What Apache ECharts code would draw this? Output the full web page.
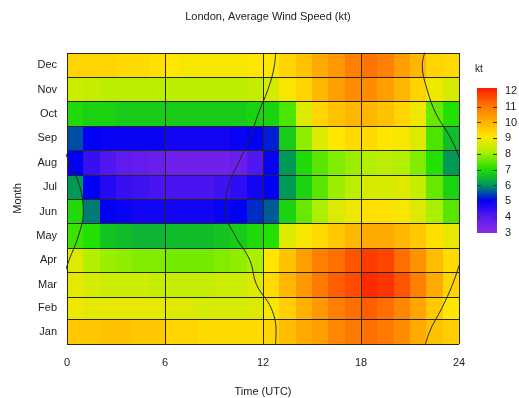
<!DOCTYPE html>
<html>
<head>
<meta charset="utf-8">
<script src="https://cdn.jsdelivr.net/npm/echarts@6/dist/echarts.min.js"></script>
<style>
  html, body { margin: 0; padding: 0; background: #fff; }
  #chart { width: 519px; height: 398px; }
</style>
</head>
<body>
<div id="chart"></div>
<script>
const months = ['Jan', 'Feb', 'Mar', 'Apr', 'May', 'Jun', 'Jul', 'Aug', 'Sep', 'Oct', 'Nov', 'Dec'];
const monthDays = [31, 28, 31, 30, 31, 30, 31, 31, 30, 31, 30, 31];
const hourTicks = [0, 6, 12, 18, 24];
const speedTicks = [3, 4, 5, 6, 7, 8, 9, 10, 11, 12];
// colour at each speed tick (3 .. 12 kt)
const palette = ['#8a2be2', '#5a1af0', '#0000f5', '#009a55', '#22e000', '#aaf000', '#ffe600', '#ffaa00', '#ff6e00', '#ff1a00'];

// average wind speed (kt), one row per month, hours 0..23 UTC
const speed = [
  [9.5, 9.5, 9.6, 9.6, 9.5, 9.5, 9.3, 9.3, 9.2, 9.2, 9.2, 9.2, 9.3, 9.7, 10.0, 10.2, 10.6, 10.8, 11.0, 10.8, 10.5, 10.0, 9.6, 9.4], // Jan
  [8.8, 8.7, 8.7, 8.7, 8.7, 8.7, 8.6, 8.6, 8.5, 8.5, 8.5, 8.6, 8.9, 9.4, 9.9, 10.3, 10.7, 11.0, 11.2, 11.0, 10.6, 10.1, 9.5, 9.0], // Feb
  [8.7, 8.5, 8.4, 8.4, 8.4, 8.3, 8.3, 8.3, 8.3, 8.4, 8.4, 8.6, 9.2, 9.8, 10.3, 10.8, 11.2, 11.4, 11.8, 11.7, 11.3, 10.7, 10.0, 9.3], // Mar
  [8.6, 8.1, 7.9, 7.8, 7.7, 7.7, 7.6, 7.6, 7.6, 7.7, 7.8, 8.0, 9.0, 9.6, 10.2, 10.7, 11.0, 11.3, 11.6, 11.5, 11.0, 10.4, 9.7, 9.2], // Apr
  [7.2, 7.0, 6.6, 6.5, 6.4, 6.4, 6.5, 6.5, 6.5, 6.6, 6.7, 6.9, 7.0, 8.6, 8.9, 9.2, 9.5, 9.8, 10.0, 10.0, 9.8, 9.5, 9.1, 8.7], // May
  [6.9, 5.8, 5.0, 4.9, 4.8, 4.8, 4.8, 4.8, 4.8, 4.9, 5.0, 5.3, 5.6, 6.8, 7.5, 8.0, 8.6, 8.8, 9.1, 9.1, 8.9, 8.6, 8.0, 7.4], // Jun
  [6.0, 5.0, 4.6, 4.4, 4.3, 4.2, 4.2, 4.2, 4.2, 4.3, 4.5, 4.8, 5.0, 6.0, 6.8, 7.4, 7.9, 8.2, 8.5, 8.5, 8.6, 8.3, 7.5, 6.8], // Jul
  [5.0, 4.4, 4.1, 3.9, 3.8, 3.7, 3.6, 3.6, 3.6, 3.6, 3.7, 4.1, 4.9, 6.0, 6.9, 7.4, 7.7, 7.9, 8.1, 8.2, 8.1, 7.7, 7.0, 6.0], // Aug
  [5.5, 5.0, 4.9, 4.9, 4.9, 4.9, 4.8, 4.8, 4.8, 4.8, 4.9, 5.0, 5.2, 6.7, 7.8, 8.6, 9.0, 9.2, 9.2, 9.0, 8.9, 8.6, 7.3, 6.5], // Sep
  [6.9, 6.8, 6.8, 6.7, 6.7, 6.7, 6.7, 6.7, 6.7, 6.7, 6.7, 6.8, 6.8, 7.3, 8.6, 9.3, 9.6, 9.8, 9.8, 9.6, 9.3, 8.8, 7.5, 7.0], // Oct
  [8.4, 8.3, 8.2, 8.2, 8.2, 8.2, 8.2, 8.2, 8.2, 8.2, 8.2, 8.3, 8.5, 8.9, 9.3, 9.8, 10.2, 10.5, 10.5, 10.2, 9.8, 9.3, 8.8, 8.5], // Nov
  [9.3, 9.3, 9.3, 9.2, 9.2, 9.1, 9.0, 8.9, 8.9, 8.9, 8.9, 9.0, 9.0, 9.3, 9.6, 10.0, 10.3, 10.7, 10.9, 10.7, 10.2, 9.8, 9.3, 9.2]  // Dec
];

// the two day/night curves, hour (UTC) at mid-month; sunset runs past 24 in summer
const sunrise = [12.8, 12.5, 11.6, 11.2, 10.3, 9.7, 9.85, 10.5, 11.2, 11.7, 12.3, 12.7];
const sunset = [22.2, 22.95, 23.6, 24.12, 24.7, 25.0, 24.8, 24.15, 23.5, 22.6, 22.05, 21.75];

const monthStart = [];
let total = 0;
monthDays.forEach(d => { monthStart.push(total); total += d; });
const monthEdges = monthStart.concat([total]);
const monthMid = monthStart.map((s, i) => s + monthDays[i] / 2);

const cells = [];
speed.forEach((row, m) => {
  row.forEach((v, h) => {
    cells.push([h, h + 1, monthStart[m], monthStart[m] + monthDays[m], v]);
  });
});

// wrap Dec/Jan around the year ends so the curve runs off the frame
function curve(vals, shift) {
  const pts = vals.map((v, i) => [v + shift, monthMid[i]]);
  pts.unshift([vals[11] + shift, monthMid[11] - total]);
  pts.push([vals[0] + shift, monthMid[0] + total]);
  return pts;
}

const textColor = '#222';
const lineColor = '#262626';
const font = 'Liberation Sans, Arial, sans-serif';
const vMin = speedTicks[0];
const vMax = speedTicks[speedTicks.length - 1];

const chart = echarts.init(document.getElementById('chart'), null, { renderer: 'canvas' });

const curveStyle = {
  type: 'line',
  smooth: 0.4,
  showSymbol: false,
  symbol: 'none',
  clip: true,
  silent: true,
  z: 4,
  lineStyle: { color: lineColor, width: 1 }
};

// short tick dashes on the colour bar: a thin grid on each side, drawn with split lines
function barTickAxis(gridIndex, showLabels) {
  return {
    gridIndex: gridIndex,
    type: 'value',
    position: 'right',
    min: vMin,
    max: vMax,
    interval: 1,
    z: 10,
    axisLine: { show: false },
    axisTick: { show: false },
    axisLabel: { show: showLabels, fontSize: 11, color: textColor, margin: 8 },
    splitLine: { show: true, showMinLine: false, showMaxLine: false, lineStyle: { color: '#333', width: 1 } }
  };
}

const option = {
  animation: false,
  backgroundColor: '#fff',
  textStyle: { fontFamily: font },
  title: {
    text: 'London, Average Wind Speed (kt)',
    left: 263,
    top: 6,
    textAlign: 'center',
    textStyle: { fontSize: 11, fontWeight: 'normal', color: textColor, fontFamily: font }
  },
  graphic: [
    {
      type: 'text',
      left: 475,
      top: 64,
      style: { text: 'kt', fontSize: 10, fill: textColor, fontFamily: font }
    },
    {
      type: 'rect',
      left: 477,
      top: 88,
      z: 1,
      shape: { width: 20, height: 145 },
      style: {
        fill: new echarts.graphic.LinearGradient(0, 1, 0, 0,
          palette.map((c, i) => ({ offset: i / (palette.length - 1), color: c })))
      }
    }
  ],
  visualMap: {
    show: false,
    type: 'continuous',
    min: vMin,
    max: vMax,
    dimension: 4,
    seriesIndex: 0,
    inRange: { color: palette }
  },
  grid: [
    { left: 67, right: 60, top: 53, bottom: 54, containLabel: false, outerBoundsMode: 'none' },
    { left: 477, width: 4, top: 91, height: 142, containLabel: false, outerBoundsMode: 'none' },
    { left: 493, width: 4, top: 91, height: 142, containLabel: false, outerBoundsMode: 'none' }
  ],
  xAxis: [
    {
      gridIndex: 0,
      type: 'value',
      min: 0,
      max: 24,
      interval: 6,
      z: 10,
      name: 'Time (UTC)',
      nameLocation: 'middle',
      nameGap: 42,
      nameTextStyle: { fontSize: 11, color: textColor },
      axisLine: { show: false },
      axisTick: { show: false },
      axisLabel: { fontSize: 11, color: textColor, margin: 13, customValues: hourTicks },
      splitLine: { show: true, lineStyle: { color: lineColor, width: 1 } }
    },
    { gridIndex: 1, type: 'value', min: 0, max: 1, show: false },
    { gridIndex: 2, type: 'value', min: 0, max: 1, show: false }
  ],
  yAxis: [
    {
      gridIndex: 0,
      type: 'value',
      min: 0,
      max: total,
      z: 10,
      name: 'Month',
      nameLocation: 'middle',
      nameGap: 44,
      nameTextStyle: { fontSize: 11, color: textColor },
      axisLine: { show: false },
      axisTick: { show: false, customValues: monthEdges },
      axisLabel: {
        fontSize: 11,
        color: textColor,
        margin: 10,
        customValues: monthMid,
        formatter: v => {
          let best = 0;
          monthMid.forEach((m, i) => { if (Math.abs(m - v) < Math.abs(monthMid[best] - v)) best = i; });
          return months[best];
        }
      },
      splitLine: { show: true, lineStyle: { color: lineColor, width: 1 } }
    },
    barTickAxis(1, false),
    barTickAxis(2, true)
  ],
  series: [
    {
      type: 'custom',
      xAxisIndex: 0,
      yAxisIndex: 0,
      silent: true,
      z: 2,
      encode: { x: [0, 1], y: [2, 3] },
      data: cells,
      renderItem: (params, api) => {
        const p0 = api.coord([api.value(0), api.value(3)]);
        const p1 = api.coord([api.value(1), api.value(2)]);
        const x = Math.round(p0[0]);
        const y = Math.round(p0[1]);
        return {
          type: 'rect',
          shape: { x: x, y: y, width: Math.round(p1[0]) - x, height: Math.round(p1[1]) - y },
          style: { fill: api.visual('color') }
        };
      }
    },
    Object.assign({ data: curve(sunrise, 0) }, curveStyle),
    Object.assign({ data: curve(sunset, 0) }, curveStyle),
    Object.assign({ data: curve(sunset, -24) }, curveStyle)
  ]
};

chart.setOption(option);
</script>
</body>
</html>
